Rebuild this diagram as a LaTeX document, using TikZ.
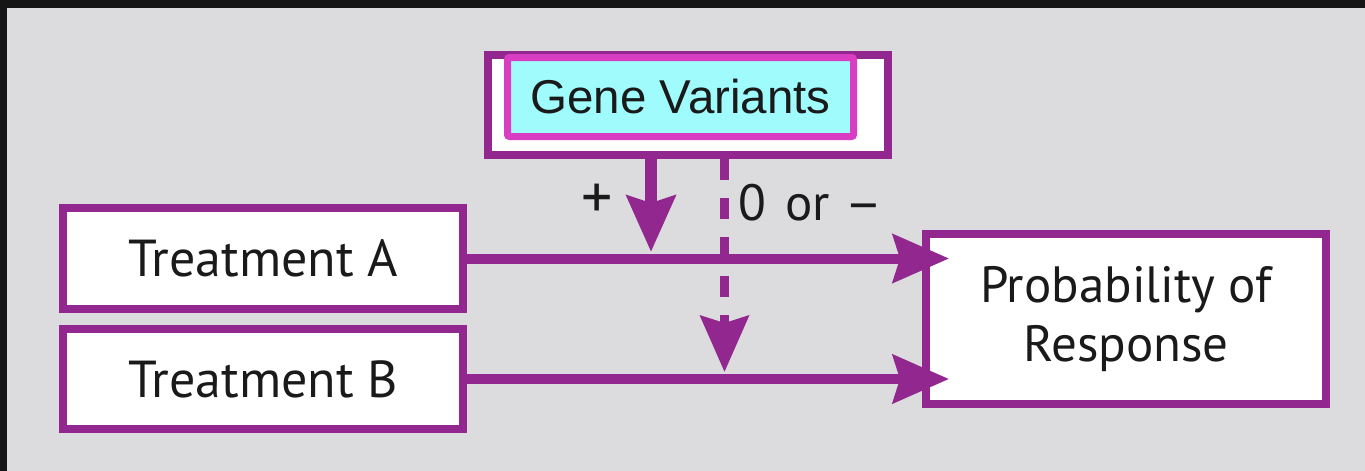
\documentclass[tikz,border=0pt]{standalone}
\usepackage{fontspec}
\setmainfont{PT Sans}
\newfontfamily\genefont{Liberation Sans}
\usetikzlibrary{arrows.meta}
\definecolor{framecol}{HTML}{151515}
\definecolor{bgcol}{HTML}{DCDCDE}
\definecolor{purp}{HTML}{92278F}
\definecolor{mag}{HTML}{D93EC2}
\definecolor{cyanfill}{HTML}{A0FCFC}
\definecolor{ink}{HTML}{1A1A1A}
\tikzset{
  box/.style={draw=purp, line width=8pt, fill=white, inner sep=0pt, text=ink,
    font=\fontsize{52}{59}\selectfont, align=center},
  genebox/.style={draw=mag, line width=7pt, fill=cyanfill, inner sep=0pt, text=ink,
    rounded corners=2pt, font=\genefont\fontsize{47.5}{52}\selectfont},
  tipstyle/.style={-{Stealth[length=56pt,width=48pt,inset=7pt]}},
  conn/.style={draw=purp, line width=10pt, tipstyle},
  lbl/.style={inner sep=0pt, text=ink, font=\fontsize{51}{52}\selectfont},
}
\begin{document}
\begin{tikzpicture}[x=1pt,y=-1pt]
\fill[framecol] (0,0) rectangle (1365,471);
\fill[bgcol] (7,8) rectangle (1365,471);
\useasboundingbox (0,0) rectangle (1365,471);

\node[box, minimum width=400pt, minimum height=101pt] (tA) at (263,258.5) {Treatment A};
\node[box, minimum width=400pt, minimum height=100pt] (tB) at (263,379) {Treatment B};
\node[box, minimum width=400pt, minimum height=100pt] (gene) at (688,105) {};
\node[genebox, minimum width=346pt, minimum height=79pt] (gv) at (680.5,97) {Gene Variants};
\node[box, minimum width=400pt, minimum height=170pt, font=\fontsize{51}{59}\selectfont] (prob) at (1126,319) {Probability of\\Response};

\coordinate (j1) at (651,258);
\coordinate (j2) at (724.5,378);

\draw[conn] (tA.east) -- (prob.west |- tA.east) [shorten >=-27pt];
\draw[conn] (tB.east) -- (prob.west |- tB.east) [shorten >=-27pt];
\draw[draw=purp, line width=12pt, tipstyle, shorten >=6pt] (gene.south -| j1) -- (j1);
\draw[draw=purp, line width=9pt, tipstyle, shorten >=6pt, dash pattern=on 21pt off 18pt] (gene.south -| j2) -- (j2);

\node[lbl, font=\fontsize{62}{64}\selectfont] (plus) at (597.5,201) {+};
\node[lbl, anchor=base west] (zero) at (738,220) {0\hspace{6pt} or\hspace{14pt}\scalebox{1.15}[1]{–}};
\end{tikzpicture}
\end{document}
